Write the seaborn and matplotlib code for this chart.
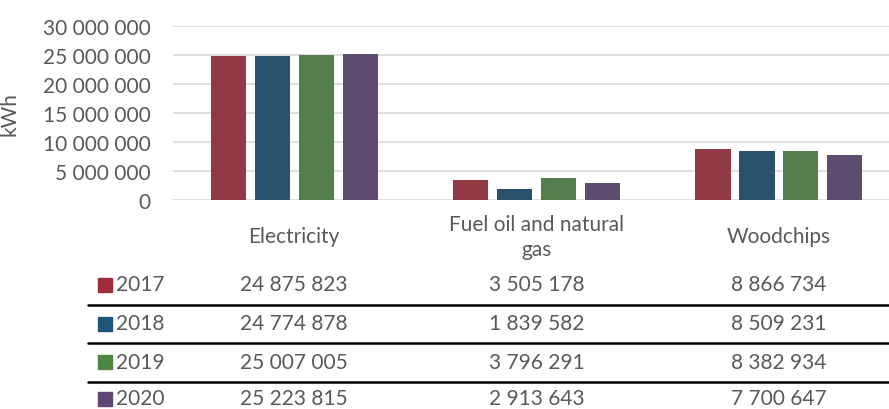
import matplotlib
matplotlib.use("Agg")
import matplotlib.pyplot as plt
import matplotlib.transforms as mtransforms
from matplotlib.lines import Line2D
from matplotlib.patches import Rectangle
import pandas as pd
import seaborn as sns

categories = ["Electricity", "Fuel oil and natural\ngas", "Woodchips"]
years = ["2017", "2018", "2019", "2020"]
v2017 = [24875823, 3505178, 8866734]
v2018 = [24774878, 1839582, 8509231]
v2019 = [25007005, 3796291, 8382934]
v2020 = [25223815, 2913643, 7700647]
colors = ["#A02B3A", "#1F5577", "#4F8642", "#5E4775"]
y_ticks = [0, 5000000, 10000000, 15000000, 20000000, 25000000, 30000000]

series = {"2017": v2017, "2018": v2018, "2019": v2019, "2020": v2020}
rows = []
for yr, vals in series.items():
    for cat, v in zip(categories, vals):
        rows.append({"category": cat, "year": yr, "kwh": v})
df = pd.DataFrame(rows)

sns.set_style("white")
plt.rcParams["font.family"] = ["Lato", "DejaVu Sans"]
grey = "#595959"


def fmt(v):
    return f"{int(v):,}".replace(",", " ")


fig = plt.figure(figsize=(8.89, 4.10), dpi=100)
W, H = 889, 410
ax = fig.add_axes([173 / W, 1 - 201 / H, (889 - 173) / W, 174 / H])

sns.barplot(data=df, x="category", y="kwh", hue="year", palette=colors,
            hue_order=years, order=categories, width=0.725, gap=0.2,
            ax=ax, legend=False, linewidth=0)

ax.set_ylim(0, 30000000)
ax.set_xlim(-0.5, 2.454)
ax.set_yticks(y_ticks)
ax.set_yticklabels([fmt(t) for t in y_ticks], fontsize=15, color=grey)
ax.yaxis.grid(True, color="#D9D9D9", linewidth=1.2)
ax.set_axisbelow(True)
for s in ax.spines.values():
    s.set_visible(False)
ax.tick_params(axis="y", length=0, pad=16)
ax.tick_params(axis="x", length=0, pad=26)
ax.set_xticks(range(len(categories)))
ax.set_xticklabels(categories, fontsize=15, color=grey, linespacing=1.3)
for lab in ax.get_xticklabels():
    lab.set_verticalalignment("center")
ax.set_xlabel("")
ax.set_ylabel("kWh", fontsize=15, color=grey)
ax.yaxis.set_label_coords(-0.214, 0.5)

# data table below the chart
trans = mtransforms.blended_transform_factory(ax.transData, fig.transFigure)
row_y = [285.5, 324.5, 363, 399.5]
for i, yr in enumerate(years):
    yf = 1 - row_y[i] / H
    fig.add_artist(Rectangle((98 / W, yf - 7 / H), 14 / W, 14 / H,
                             transform=fig.transFigure, color=colors[i]))
    fig.text(116 / W, yf, yr, fontsize=15, color=grey, va="center", ha="left")
    for j, v in enumerate(series[yr]):
        ax.text(j, yf, fmt(v), transform=trans, fontsize=15, color=grey,
                va="center", ha="center", clip_on=False)
for ly in [305.5, 344, 382.5]:
    fig.add_artist(Line2D([88 / W, 1.0], [1 - ly / H, 1 - ly / H],
                          transform=fig.transFigure, color="black", linewidth=1.8))

fig.savefig("out.png", dpi=100)
